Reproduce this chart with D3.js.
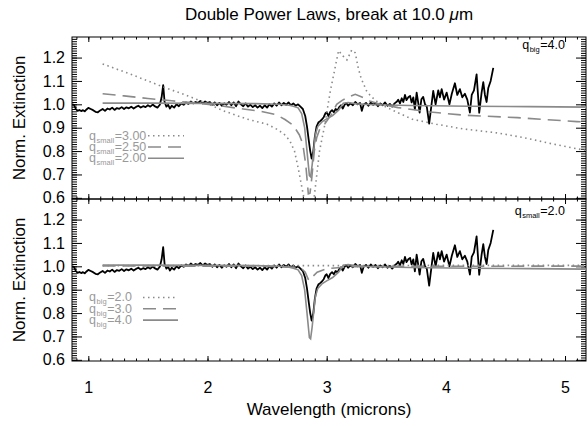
<!DOCTYPE html>
<html>
<head>
<meta charset="utf-8">
<script src="https://cdn.jsdelivr.net/npm/d3@7"></script>
<style>
body { margin: 0; background: #fff; }
svg { display: block; font-family: "Liberation Sans", Arial, Helvetica, sans-serif; }
.axis path { display: none; }
.axis line { stroke: #000; stroke-width: 1; }
.axis text { font-size: 16px; fill: #000; font-family: "Liberation Sans", Arial, sans-serif; }
.frame { fill: none; stroke: #000; stroke-width: 1; }
.obs { fill: none; stroke: #000; stroke-width: 1.8; stroke-linejoin: round; }
.model { fill: none; stroke: #8a8a8a; stroke-width: 1.6; }
.dot { stroke-dasharray: 1.5, 3.5; }
.dash { stroke-dasharray: 13, 7; }
.legend { font-size: 12.5px; fill: #999; }
.note { font-size: 12.5px; fill: #000; }
.title { font-size: 17px; fill: #000; }
</style>
</head>
<body>
<svg id="chart" width="587" height="426"></svg>
<script>
// tick labels
const xTicks = [1, 2, 3, 4, 5];
const yTicks = [0.6, 0.7, 0.8, 0.9, 1.0, 1.1, 1.2];

// observed spectrum [wavelength, norm. extinction]
const spectrum = [
  [0.865,1.000],[0.88,0.998],[0.895,0.980],[0.91,0.972],[0.925,0.976],[0.94,0.971],[0.955,0.975],[0.97,0.970],
  [0.985,0.978],[1.00,0.985],[1.02,0.980],[1.04,0.975],[1.06,0.968],[1.08,0.966],[1.10,0.974],[1.12,0.980],
  [1.14,0.972],[1.16,0.982],[1.18,0.978],[1.20,0.986],[1.22,0.976],[1.24,0.984],[1.26,0.981],[1.28,0.988],
  [1.30,0.980],[1.32,0.987],[1.34,0.983],[1.36,0.990],[1.38,0.982],[1.40,0.989],[1.42,0.994],[1.44,0.986],
  [1.46,0.992],[1.48,0.988],[1.50,0.996],[1.52,0.990],[1.54,0.999],[1.56,0.991],[1.58,0.986],[1.60,0.998],
  [1.615,1.030],[1.628,1.082],[1.64,1.010],[1.655,0.990],[1.67,0.998],[1.685,0.982],[1.70,0.994],[1.72,0.986],
  [1.74,1.000],[1.76,0.992],[1.78,1.004],[1.80,0.998],[1.82,1.008],[1.84,1.002],[1.86,1.012],[1.88,1.004],
  [1.90,1.010],[1.92,1.006],[1.94,1.014],[1.96,1.004],[1.98,1.012],[2.00,1.006],[2.02,1.010],[2.04,0.998],
  [2.06,1.008],[2.08,0.996],[2.10,1.006],[2.12,0.994],[2.14,1.004],[2.16,0.998],[2.18,1.010],[2.20,0.996],
  [2.22,1.008],[2.24,0.992],[2.26,1.012],[2.28,1.000],[2.30,0.992],[2.32,1.004],[2.34,0.990],[2.36,0.998],
  [2.38,0.988],[2.40,0.996],[2.42,0.986],[2.44,0.994],[2.46,0.984],[2.48,0.996],[2.50,0.986],[2.52,1.000],
  [2.54,0.990],[2.56,1.004],[2.58,0.994],[2.60,1.008],[2.62,0.996],[2.64,1.006],[2.66,0.998],[2.68,1.008],
  [2.70,0.996],[2.72,1.004],[2.74,0.994],[2.76,1.000],[2.78,0.990],[2.80,0.980],[2.82,0.950],[2.835,0.905],
  [2.85,0.845],[2.862,0.800],[2.874,0.768],[2.888,0.800],[2.90,0.858],[2.915,0.905],[2.93,0.922],[2.945,0.928],
  [2.96,0.935],[2.975,0.945],[2.99,0.962],[3.00,0.966],[3.015,0.950],[3.03,0.968],[3.045,0.975],[3.06,0.966],
  [3.075,0.980],[3.09,0.974],[3.105,0.988],[3.12,0.996],[3.135,0.982],[3.15,0.998],[3.165,1.006],[3.18,0.994],
  [3.20,1.004],[3.22,0.996],[3.24,1.010],[3.26,1.000],[3.28,1.006],[3.295,0.972],[3.31,0.998],[3.33,1.006],
  [3.35,0.994],[3.37,1.008],[3.39,0.998],[3.41,1.006],[3.43,0.992],[3.45,1.004],[3.47,0.996],[3.49,1.008],
  [3.51,0.994],[3.53,1.002],[3.55,0.990],[3.57,1.004],[3.59,1.012],[3.60,1.020],[3.615,1.004],[3.63,1.026],
  [3.643,1.010],[3.657,1.040],[3.67,1.018],[3.685,1.030],[3.70,1.036],[3.713,1.008],[3.727,1.030],[3.74,0.978],
  [3.755,1.050],[3.767,1.010],[3.78,0.965],[3.795,1.022],[3.81,1.032],[3.825,1.000],[3.84,0.990],[3.86,0.917],
  [3.88,1.000],[3.894,1.057],[3.914,1.000],[3.936,1.060],[3.95,1.030],[3.965,1.065],[3.985,1.020],[4.007,1.050],
  [4.03,1.000],[4.05,1.045],[4.076,1.090],[4.096,1.040],[4.118,1.065],[4.138,1.030],[4.16,1.045],[4.18,1.020],
  [4.202,0.965],[4.217,1.040],[4.236,1.060],[4.258,1.128],[4.28,0.964],[4.30,1.050],[4.314,1.095],[4.328,1.040],
  [4.342,1.010],[4.356,1.070],[4.376,1.100],[4.398,1.156]
];

// models, q_big = 4.0
const qSmall300 = [
  [1.12,1.173],[1.4,1.12],[1.6,1.08],[1.83,1.037],[2.0,1.003],[2.13,0.973],[2.33,0.937],[2.5,0.915],
  [2.58,0.894],[2.64,0.874],[2.69,0.845],[2.73,0.80],[2.76,0.73],[2.79,0.65],[2.82,0.57],[2.86,0.45],
  [2.89,0.58],[2.94,0.80],[2.985,0.915],[3.03,1.055],[3.07,1.155],[3.10,1.23],[3.14,1.205],[3.17,1.19],
  [3.21,1.232],[3.24,1.22],[3.265,1.155],[3.29,1.11],[3.335,1.057],[3.37,1.035],[3.45,1.0],[3.59,0.966],
  [3.72,0.936],[3.92,0.915],[4.14,0.895],[4.43,0.878],[4.65,0.858],[4.9,0.83],[5.1,0.81],[5.176,0.803]
];
const qSmall250 = [
  [1.12,1.045],[1.3,1.036],[1.5,1.025],[1.7,1.015],[1.9,1.006],[2.1,0.994],[2.3,0.980],[2.45,0.970],
  [2.58,0.955],[2.65,0.935],[2.72,0.91],[2.77,0.87],[2.80,0.83],[2.825,0.74],[2.846,0.617],[2.86,0.62],
  [2.874,0.68],[2.896,0.80],[2.916,0.857],[2.944,0.897],[2.985,0.917],[3.04,0.957],[3.084,1.0],[3.13,1.017],
  [3.18,1.03],[3.24,1.043],[3.30,1.03],[3.36,1.014],[3.45,1.0],[3.6,0.986],[3.87,0.967],[4.14,0.954],
  [4.6,0.943],[5.1,0.926],[5.176,0.924]
];
const qSmall200 = [
  [1.12,1.005],[1.5,1.005],[2.0,1.004],[2.4,1.003],[2.6,1.0],[2.70,0.995],[2.76,0.985],[2.79,0.96],
  [2.815,0.90],[2.835,0.80],[2.855,0.695],[2.865,0.69],[2.878,0.74],[2.89,0.80],[2.905,0.87],[2.925,0.905],
  [2.96,0.925],[3.00,0.938],[3.05,0.952],[3.10,0.975],[3.14,1.005],[3.18,1.008],[3.25,1.002],[3.4,0.998],
  [3.7,0.995],[4.2,0.992],[4.7,0.99],[5.176,0.988]
];

// models, q_small = 2.0
const qBig20 = [[1.12,1.003],[2.0,1.003],[3.0,1.003],[4.0,1.004],[5.176,1.004]];
const qBig30 = [
  [1.12,1.002],[2.5,1.0],[2.78,0.995],[2.82,0.975],[2.845,0.945],[2.86,0.94],[2.88,0.955],[2.92,0.975],
  [3.0,0.99],[3.2,0.998],[3.6,1.0],[5.176,1.001]
];
const qBig40 = qSmall200;

const topLabels = ["3.00", "2.50", "2.00"];
const bottomLabels = ["2.0", "3.0", "4.0"];

const svg = d3.select("#chart");
const left = 72, right = 586;
const x = d3.scaleLinear().domain([0.863, 5.176]).range([left, right]);
const xMinor = d3.range(9, 52).map(d => d / 10);
const yMinor = d3.range(60, 129).map(d => d / 100);

const panels = [
  {top: 37, bottom: 199, models: [qSmall300, qSmall250, qSmall200], sub: "small", labels: topLabels,
   note: ["big", "=4.0"], noteY: 49, legY: 135.7, legX1: 148, legX2: 184, xLabels: false},
  {top: 199, bottom: 361, models: [qBig20, qBig30, qBig40], sub: "big", labels: bottomLabels,
   note: ["small", "=2.0"], noteY: 215, legY: 297.5, legX1: 143, legX2: 178, xLabels: true}
];
const styles = ["dot", "dash", "solid"];

// q with a subscript, then the value
function qText(sel, sub, rest) {
  sel.append("tspan").text("q");
  sel.append("tspan").attr("dx", 0.6).attr("dy", 3).attr("font-size", 7.5).text(sub);
  sel.append("tspan").attr("dx", 0.6).attr("dy", -3).text(rest);
}

panels.forEach((p, i) => {
  const y = d3.scaleLinear().domain([0.595, 1.288]).range([p.bottom, p.top]);
  const g = svg.append("g");

  g.append("clipPath").attr("id", "clip" + i).append("rect")
    .attr("x", left).attr("y", p.top).attr("width", right - left).attr("height", p.bottom - p.top);

  // y axes
  g.append("g").attr("class", "axis").attr("transform", `translate(${left},0)`)
    .call(d3.axisLeft(y).tickValues(yMinor).tickSize(-5).tickFormat(""));
  g.append("g").attr("class", "axis").attr("transform", `translate(${left},0)`)
    .call(d3.axisLeft(y).tickValues(yTicks).tickSize(-10).tickPadding(7).tickFormat(d3.format(".1f")));
  g.append("g").attr("class", "axis").attr("transform", `translate(${right},0)`)
    .call(d3.axisRight(y).tickValues(yMinor).tickSize(-5).tickFormat(""));
  g.append("g").attr("class", "axis").attr("transform", `translate(${right},0)`)
    .call(d3.axisRight(y).tickValues(yTicks).tickSize(-10).tickFormat(""));

  // x axes
  g.append("g").attr("class", "axis").attr("transform", `translate(0,${p.top})`)
    .call(d3.axisTop(x).tickValues(xMinor).tickSize(-2.5).tickFormat(""));
  g.append("g").attr("class", "axis").attr("transform", `translate(0,${p.top})`)
    .call(d3.axisTop(x).tickValues(xTicks).tickSize(-5).tickFormat(""));
  g.append("g").attr("class", "axis").attr("transform", `translate(0,${p.bottom})`)
    .call(d3.axisBottom(x).tickValues(xMinor).tickSize(-2.5).tickFormat(""));
  g.append("g").attr("class", "axis").attr("transform", `translate(0,${p.bottom})`)
    .call(d3.axisBottom(x).tickValues(xTicks).tickSize(-5).tickPadding(21)
      .tickFormat(p.xLabels ? d3.format("d") : ""));

  g.append("rect").attr("class", "frame")
    .attr("x", left).attr("y", p.top).attr("width", right - left).attr("height", p.bottom - p.top);

  const line = d3.line().x(d => x(d[0])).y(d => y(d[1]));
  const plot = g.append("g").attr("clip-path", `url(#clip${i})`);
  plot.append("path").attr("class", "obs").attr("d", line(spectrum));
  p.models.forEach((m, k) => {
    plot.append("path").attr("class", "model " + styles[k]).attr("d", line(m));
  });

  // legend
  p.labels.forEach((lab, k) => {
    const ly = p.legY + k * 11.3;
    qText(g.append("text").attr("class", "legend").attr("x", 89).attr("y", ly + 3.8), p.sub, "=" + lab);
    g.append("line").attr("class", "model " + styles[k])
      .attr("x1", p.legX1).attr("x2", p.legX2).attr("y1", ly).attr("y2", ly);
  });

  // annotation
  qText(g.append("text").attr("class", "note").attr("x", 565).attr("y", p.noteY)
    .attr("text-anchor", "end"), p.note[0], p.note[1]);

  svg.append("text").attr("class", "title")
    .attr("transform", `translate(25,${(p.top + p.bottom) / 2}) rotate(-90)`)
    .attr("text-anchor", "middle").text("Norm. Extinction");
});

const title = svg.append("text").attr("class", "title").attr("x", (left + right) / 2).attr("y", 20)
  .attr("text-anchor", "middle");
title.append("tspan").text("Double Power Laws, break at 10.0 ");
title.append("tspan").attr("font-style", "italic").text("\u03bc");
title.append("tspan").text("m");

svg.append("text").attr("class", "title").attr("x", (left + right) / 2).attr("y", 415)
  .attr("text-anchor", "middle").text("Wavelength (microns)");
</script>
</body>
</html>
